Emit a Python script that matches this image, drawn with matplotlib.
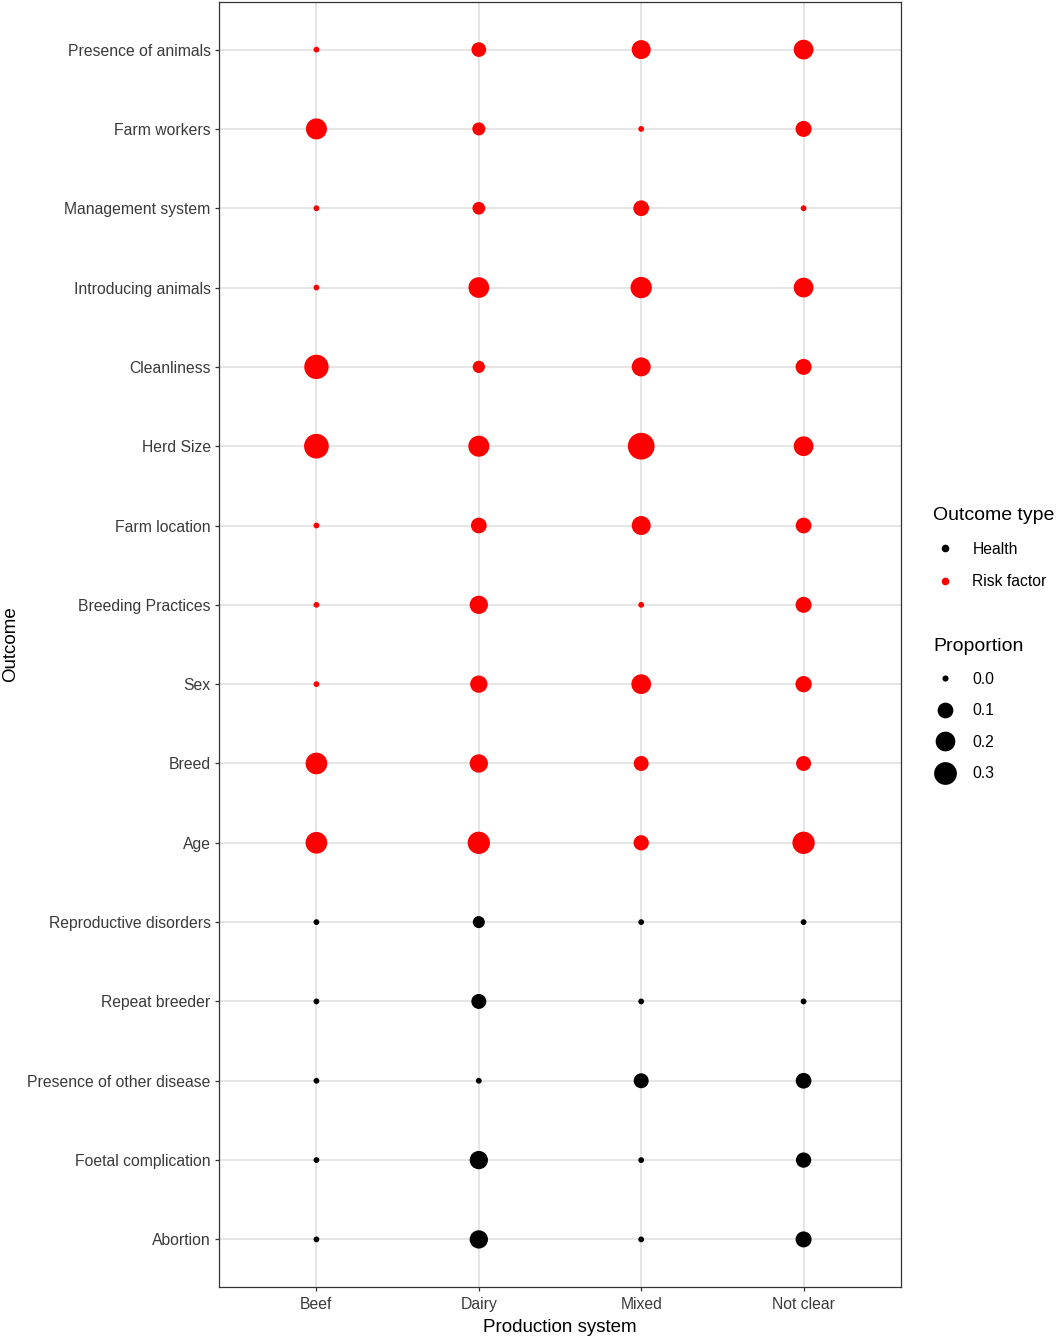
import numpy as np
import matplotlib
matplotlib.use("Agg")
import matplotlib.pyplot as plt
from matplotlib.lines import Line2D

plt.rcParams['font.family'] = ['Liberation Sans', 'DejaVu Sans']

# data (top row first)
outcomes = ["Presence of animals", "Farm workers", "Management system", "Introducing animals",
            "Cleanliness", "Herd Size", "Farm location", "Breeding Practices", "Sex", "Breed",
            "Age", "Reproductive disorders", "Repeat breeder", "Presence of other disease",
            "Foetal complication", "Abortion"]
outcome_type = ["Risk factor"] * 11 + ["Health"] * 5
systems = ["Beef", "Dairy", "Mixed", "Not clear"]

beef = [0.0, 0.275, 0.0, 0.0, 0.41, 0.425, 0.0, 0.0, 0.0, 0.30, 0.30, 0.0, 0.0, 0.0, 0.0, 0.0]
dairy = [0.094, 0.062, 0.057, 0.264, 0.05, 0.275, 0.117, 0.186, 0.157, 0.186, 0.324,
         0.046, 0.10, 0.0, 0.186, 0.186]
mixed = [0.207, 0.0, 0.117, 0.286, 0.207, 0.52, 0.207, 0.0, 0.23, 0.10, 0.107,
         0.0, 0.0, 0.10, 0.0, 0.0]
not_clear = [0.23, 0.124, 0.0, 0.23, 0.124, 0.23, 0.117, 0.124, 0.131, 0.10, 0.324,
             0.0, 0.0, 0.117, 0.107, 0.124]
proportion = [beef, dairy, mixed, not_clear]

type_colors = {"Health": "black", "Risk factor": "#FF0000"}
size_breaks = [0.0, 0.1, 0.2, 0.3]


def diam_pt(v):
    # diameter in px -> points (dpi 100)
    return (5.8 + 29 * np.sqrt(np.asarray(v))) * 0.72


fig = plt.figure(figsize=(10.56, 13.39), dpi=100)
ax = fig.add_axes([219 / 1056, 1 - 1287 / 1339, 682 / 1056, 1285 / 1339])

n = len(outcomes)
ypos = np.arange(n)[::-1] + 1
for i, sysname in enumerate(systems):
    vals = np.array(proportion[i])
    cols = [type_colors[t] for t in outcome_type]
    ax.scatter(np.full(n, i + 1), ypos, s=diam_pt(vals) ** 2, c=cols,
               linewidths=0, zorder=3)

ax.set_xlim(0.4, 4.6)
ax.set_ylim(0.4, n + 0.6)
ax.set_xticks(range(1, 5))
ax.set_xticklabels(systems)
ax.set_yticks(ypos)
ax.set_yticklabels(outcomes)
ax.grid(True, color="#E3E3E3", linewidth=1.3, zorder=0)
ax.set_axisbelow(True)
for sp in ax.spines.values():
    sp.set_color("#333333")
    sp.set_linewidth(0.9)
ax.tick_params(length=3, width=0.9, color="#333333", labelsize=11.3,
               labelcolor="#3A3A3A", pad=3)
ax.tick_params(axis="x", pad=4.5)
ax.set_xlabel("Production system", fontsize=13.5, labelpad=4.5)
ax.set_ylabel("Outcome", fontsize=13.5, labelpad=6)

# legends
h1 = [Line2D([], [], marker="o", linestyle="", markersize=5.5, markeredgewidth=0,
             color=type_colors[t]) for t in ["Health", "Risk factor"]]
leg1 = fig.legend(h1, ["Health", "Risk factor"], title="Outcome type",
                  loc="upper left", bbox_to_anchor=(930 / 1056, 1 - 504 / 1339),
                  frameon=False, fontsize=11.3, title_fontsize=14,
                  handlelength=1.5, handletextpad=1.0, labelspacing=1.12,
                  borderaxespad=0, borderpad=0.2)
leg1._legend_box.align = "left"

h2 = [Line2D([], [], marker="o", linestyle="", markersize=float(diam_pt(b)) * 1.05,
             markeredgewidth=0, color="black") for b in size_breaks]
leg2 = fig.legend(h2, [f"{b:.1f}" for b in size_breaks], title="Proportion",
                  loc="upper left", bbox_to_anchor=(930 / 1056, 1 - 635 / 1339),
                  frameon=False, fontsize=11.3, title_fontsize=14,
                  handlelength=1.5, handletextpad=1.0, labelspacing=1.05,
                  borderaxespad=0, borderpad=0.2)
leg2._legend_box.align = "left"

fig.savefig("out.png", dpi=100)
